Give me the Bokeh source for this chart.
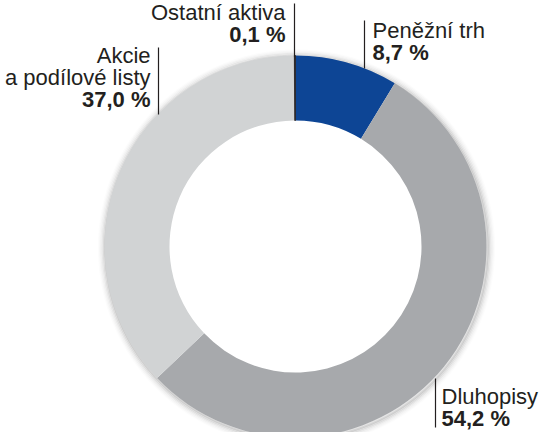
import math
from bokeh.plotting import figure
from bokeh.models import Range1d
from bokeh.core.properties import value
from bokeh.embed import file_html
from bokeh.resources import INLINE

# ---- data ----
categories = ["Peněžní trh", "Dluhopisy", "Akcie a podílové listy", "Ostatní aktiva"]
shares = [8.7, 54.2, 37.0, 0.1]
colors = ["#0d4595", "#a7a9ac", "#d1d3d4", "#231f20"]
label_lines = [["Peněžní trh"], ["Dluhopisy"], ["Akcie", "a podílové listy"], ["Ostatní aktiva"]]

# ---- layout (page pixel coordinates of the reference) ----
W, H = 540, 432
def Y(py):
    return 440 - py

TEXT_SHIFT = 8   # compensates the renderer's baseline placement
CX, CY = 303, Y(254)
R_OUT, R_IN = 191, 126
FONT = "Liberation Sans"
TXT = "#231f20"

p = figure(frame_width=W, frame_height=H, output_backend="svg", toolbar_location=None,
           x_range=Range1d(8, 548), y_range=Range1d(0, 432),
           x_axis_location=None, y_axis_location=None,
           min_border=0, outline_line_color=None)
p.grid.visible = False
p.background_fill_color = "white"
p.border_fill_color = "white"

# soft drop shadow
for i, a in enumerate([0.10, 0.07, 0.05, 0.03, 0.018, 0.01]):
    p.annulus(x=CX + 1, y=CY - 1.5, inner_radius=R_OUT - 2 + i * 1.3,
              outer_radius=R_OUT + i * 1.3 + 1.3, fill_color="black",
              fill_alpha=a, line_color=None)

total = sum(shares)
cum = 0.0
starts, ends = [], []
for s in shares:
    starts.append(math.pi / 2 - 2 * math.pi * cum / total)
    cum += s
    ends.append(math.pi / 2 - 2 * math.pi * cum / total)

p.annular_wedge(x=[CX] * len(shares), y=[CY] * len(shares),
                inner_radius=R_IN, outer_radius=R_OUT,
                start_angle=starts, end_angle=ends, direction="clock",
                fill_color=colors, line_color=None)
# dark thin slice edge for tiny category
p.annular_wedge(x=CX, y=CY, inner_radius=R_IN, outer_radius=R_OUT,
                start_angle=starts[3], end_angle=ends[3], direction="clock",
                fill_color=colors[3], line_color=colors[3], line_width=0.6)

def fmt(v):
    return f"{v:.1f} %".replace(".", ",")

# label placement: (x, align, first baseline, line x, line y0, line y1)
place = [
    (380, "left", 46, 372, 28, 76),
    (449, "left", 412, 443, 386, 435),
    (158, "right", 71, 166, 55, 122),
    (293, "right", 28, 302, 11, 64),
]
LH = 22
for i, (tx, al, b0, lx, ly0, ly1) in enumerate(place):
    lines = label_lines[i]
    for j, t in enumerate(lines):
        p.text(x=[tx], y=[Y(b0 + j * LH) + TEXT_SHIFT], text=[t], text_align=al,
               text_baseline="alphabetic", text_font=value(FONT),
               text_font_size="22px", text_color=TXT)
    p.text(x=[tx], y=[Y(b0 + len(lines) * LH) + TEXT_SHIFT], text=[fmt(shares[i])],
           text_align=al, text_baseline="alphabetic", text_font=value(FONT),
           text_font_size="22px", text_font_style="bold", text_color=TXT)
    p.segment(x0=[lx], y0=[Y(ly0)], x1=[lx], y1=[Y(ly1)],
              line_color=TXT, line_width=1.2)

open("out.html", "w").write(file_html(p, INLINE))
